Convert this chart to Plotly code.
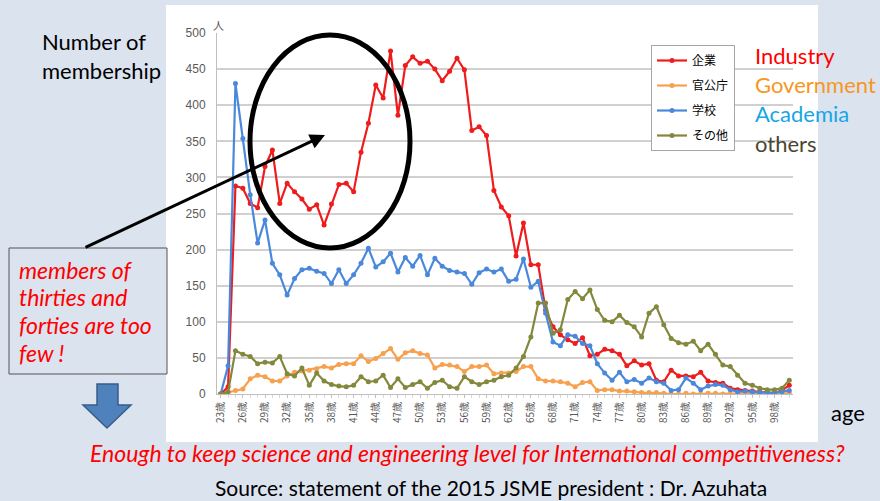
import plotly.graph_objects as go

ages = list(range(23, 101))
industry = [0, 10, 288, 285, 264, 258, 315, 338, 264, 292, 280, 270, 256, 262, 234, 263, 290, 292, 280, 335,
            375, 428, 410, 475, 386, 455, 467, 458, 461, 450, 434, 447, 465, 449, 365, 370, 358, 282, 259, 247,
            191, 237, 179, 179, 116, 93, 82, 75, 70, 78, 53, 55, 62, 60, 55, 39, 46, 40, 42, 19,
            17, 33, 25, 25, 24, 30, 18, 16, 15, 8, 6, 5, 4, 3, 2, 1, 5, 12]
government = [0, 2, 5, 7, 21, 26, 24, 18, 18, 25, 30, 32, 33, 35, 38, 36, 41, 42, 42, 53,
              45, 49, 56, 63, 48, 57, 60, 56, 54, 36, 41, 40, 38, 31, 38, 38, 40, 28, 29, 29,
              31, 38, 38, 21, 18, 18, 17, 15, 10, 16, 17, 5, 6, 6, 4, 4, 3, 2, 2, 2,
              1, 0, 0, 1, 0, 0, 1, 1, 0, 0, 0, 0, 0, 0, 0, 0, 0, 1]
academia = [0, 39, 430, 354, 276, 209, 241, 181, 165, 137, 160, 172, 174, 170, 167, 153, 172, 153, 165, 181,
            202, 176, 183, 195, 169, 189, 177, 192, 165, 188, 177, 171, 169, 167, 152, 168, 173, 169, 173, 156,
            159, 187, 148, 156, 112, 72, 67, 82, 80, 70, 67, 42, 29, 19, 30, 17, 20, 15, 22, 17,
            15, 5, 6, 22, 15, 6, 11, 13, 12, 6, 3, 4, 3, 2, 2, 2, 3, 5]
others = [0, 3, 60, 55, 52, 42, 44, 43, 52, 28, 25, 36, 12, 29, 18, 13, 11, 10, 12, 24,
          17, 18, 26, 9, 21, 9, 13, 17, 8, 16, 19, 10, 8, 24, 17, 13, 17, 19, 24, 26,
          36, 52, 79, 126, 126, 84, 89, 131, 142, 132, 144, 117, 102, 100, 109, 99, 93, 79, 112, 121,
          96, 77, 71, 69, 73, 60, 69, 55, 40, 38, 26, 15, 12, 8, 6, 6, 8, 19]

series_names = ["企業", "官公庁", "学校", "その他"]
series_values = [industry, government, academia, others]
series_colors = ["#ee1c1c", "#f7a04e", "#4a88dc", "#84883c"]
tick_ages = list(range(23, 99, 3))
tick_labels = [f"{a}歳" for a in tick_ages]

# plot-area geometry in pixels (for placing decorations)
L, R, T, B = 217, 793, 33, 394
W, H = R - L, B - T


def px(x):
    return (x - L) / W


def py(y):
    return (B - y) / H


fig = go.Figure()
for i, (name, vals, col) in enumerate(zip(series_names, series_values, series_colors)):
    fig.add_trace(go.Scatter(
        x=ages, y=vals, name=name, mode="lines+markers", legendgroup=f"g{i}",
        line=dict(color=col, width=2.2),
        marker=dict(color=col, size=5),
    ))

shapes = []
# white chart image background
shapes.append(dict(type="rect", xref="paper", yref="paper", layer="below",
                   x0=px(166), x1=px(818), y0=py(442), y1=py(5),
                   fillcolor="white", line=dict(width=0)))
# ellipse
shapes.append(dict(type="circle", xref="paper", yref="paper",
                   x0=px(250), x1=px(410), y0=py(248), y1=py(35),
                   line=dict(color="black", width=5)))
# text box
shapes.append(dict(type="rect", xref="paper", yref="paper",
                   x0=px(9), x1=px(167), y0=py(374), y1=py(248),
                   fillcolor="#dbe3ef", line=dict(color="#555555", width=1)))
# blue block arrow
pts = [(97, 384), (118, 384), (118, 405), (131, 405), (107, 428), (83, 405), (97, 405)]
path = "M " + " L ".join(f"{px(x)},{py(y)}" for x, y in pts) + " Z"
shapes.append(dict(type="path", xref="paper", yref="paper", path=path,
                   fillcolor="#4f81bd", line=dict(color="#385d8a", width=1.5)))

font_lat = "Lato"


def label(x, y, text, size, color, family=font_lat, xanchor="left", align="left"):
    return dict(x=px(x), y=py(y), xref="paper", yref="paper", text=text, showarrow=False,
                xanchor=xanchor, yanchor="middle", align=align,
                font=dict(size=size, color=color, family=family))


annotations = [
    label(40, 42, "Number of", 22, "black"),
    label(40, 70, "membership", 22, "black"),
    label(218, 25, "人", 11, "#595959", family="Noto Sans CJK JP", xanchor="center"),
    label(753, 56, "Industry", 22, "#ff0000"),
    label(753, 85, "Government", 22, "#f7961e"),
    label(753, 114, "Academia", 22, "#16a6e6"),
    label(753, 143, "others", 22, "#4a4630"),
    label(829, 412, "age", 22, "black"),
    label(17, 270, "<i>members of</i>", 23, "#ff0000"),
    label(17, 297, "<i>thirties and</i>", 23, "#ff0000"),
    label(17, 325, "<i>forties are too</i>", 23, "#ff0000"),
    label(17, 353, "<i>few !</i>", 23, "#ff0000"),
    label(467, 453, "<i>Enough to keep science and engineering level for International competitiveness?</i>",
          23, "#ff0000", xanchor="center"),
    label(491, 487, "Source: statement of the 2015 JSME president : Dr. Azuhata", 21, "black",
          xanchor="center"),
    # arrow
    dict(x=px(325), y=py(135), ax=84 - 325, ay=248 - 135, xref="paper", yref="paper",
         text="", showarrow=True, arrowhead=2, arrowsize=1, arrowwidth=3, arrowcolor="black"),
]

fig.update_layout(
    width=880, height=501,
    margin=dict(l=L, r=880 - R, t=T, b=501 - B),
    paper_bgcolor="#dbe3ef",
    plot_bgcolor="white",
    shapes=shapes,
    annotations=annotations,
    showlegend=True,
    legend=dict(x=px(651), y=py(45), xanchor="left", yanchor="top",
                bgcolor="white", bordercolor="#a6a6a6", borderwidth=1,
                font=dict(size=12, color="black", family="Noto Sans CJK JP"),
                itemwidth=30, tracegroupgap=6),
    xaxis=dict(range=[22.5, 100.5], tickmode="array", tickvals=tick_ages, ticktext=tick_labels,
               tickangle=-90, tickfont=dict(size=10, color="#595959", family="Noto Sans CJK JP"),
               showgrid=False, zeroline=False, showline=True, linecolor="#bfbfbf",
               ticks="outside", ticklen=3, tickcolor="#bfbfbf",
               minor=dict(dtick=1, ticks="outside", ticklen=3, tickcolor="#d9d9d9")),
    yaxis=dict(range=[0, 500], dtick=50, tickfont=dict(size=12, color="#595959", family="Liberation Sans"),
               showgrid=True, gridcolor="#d0d0d0", gridwidth=1.5, zeroline=False,
               showline=True, linecolor="#bfbfbf", ticks="", ticklabelstandoff=8),
)

fig.write_html("out.html", config={"displayModeBar": False},
               post_script="document.body.style.margin='0';document.body.style.background='#dbe3ef';")
